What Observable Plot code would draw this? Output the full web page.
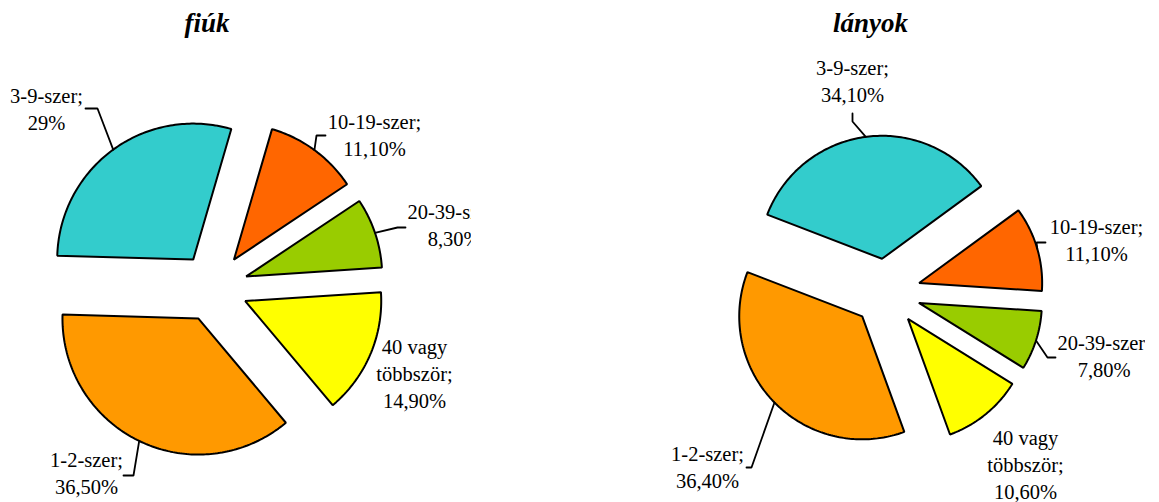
<!DOCTYPE html>
<html><head><meta charset="utf-8">
<script src="https://cdn.jsdelivr.net/npm/d3@7"></script>
<script src="https://cdn.jsdelivr.net/npm/@observablehq/plot@0.6"></script>
<style>
html,body{margin:0;padding:0;background:#fff;}
#wrap{position:relative;width:1159px;height:502px;overflow:hidden;background:#fff;}
.pane{position:absolute;top:0;}
.pane svg{overflow:hidden;}
</style></head><body><div id="wrap"></div>
<script>
// ---- data ----
const categories = ["1-2-szer", "3-9-szer", "10-19-szer", "20-39-szer", "40 vagy többször"];
const categoryLabels = ["1-2-szer;", "3-9-szer;", "10-19-szer;", "20-39-szer;", "40 vagy\ntöbbször;"];
const boysValues = [36.5, 29, 11.1, 8.3, 14.9];
const girlsValues = [36.4, 34.1, 11.1, 7.8, 10.6];
const boysValueLabels = ["36,50%", "29%", "11,10%", "8,30%", "14,90%"];
const girlsValueLabels = ["36,40%", "34,10%", "11,10%", "7,80%", "10,60%"];
const titles = ["fiúk", "lányok"];
const sliceColors = ["#FF9900", "#33CCCC", "#FF6600", "#99CC00", "#FFFF00"];

// ---- layout (pixels; label offsets relative to pie centre, y downwards) ----
const H = 502;
const textShift = -3;
const layouts = [
  {left: 0, width: 471, cx: 213, cy: 287, r: 136, explode: 34.5, startAngle: 140, title: [-6.5, -256],
   labels: [
     {at: [-127, 187], elbow: [-80, 188], end: [-90, 188]},
     {at: [-167, -177], elbow: [-116, -179], end: [-128, -179]},
     {at: [161, -151], elbow: [103, -152], end: [112, -152]},
     {at: [240.7, -60.5], elbow: [184, -60], end: [192, -60]},
     {at: [201, 88]}
   ]},
  {left: 472, width: 673, cx: 414, cy: 292, r: 123, explode: 34, startAngle: 160, title: [-16, -261],
   labels: [
     {at: [-179, 176.5], elbow: [-135, 175], end: [-140, 175]},
     {at: [-34, -209.5], elbow: [-34, -171], end: [-34, -179]},
     {at: [210, -50.5], elbow: [150, -50], end: [159, -50]},
     {at: [217.7, 65.5], elbow: [161, 65], end: [169, 65]},
     {at: [139, 174]}
   ]}
];
const series = [
  {values: boysValues, valueLabels: boysValueLabels, title: titles[0]},
  {values: girlsValues, valueLabels: girlsValueLabels, title: titles[1]}
];

const rad = Math.PI / 180;
const serif = "Liberation Serif, Tinos, DejaVu Serif, Times New Roman, serif";

function makeChart(s, L) {
  const total = d3.sum(s.values);
  const e = L.explode / L.r;
  let a = L.startAngle;
  const segs = s.values.map((v, i) => {
    const a0 = a, a1 = a + v / total * 360; a = a1;
    const mid = (a0 + a1) / 2;
    return {i, a0, a1, mid, ox: e * Math.sin(mid * rad), oy: e * Math.cos(mid * rad)};
  });
  const marks = [];
  segs.forEach(g => {
    const pts = [{x: g.ox, y: g.oy}];
    const n = Math.ceil(g.a1 - g.a0);
    for (let j = 0; j <= n; j++) {
      const t = (g.a0 + (g.a1 - g.a0) * j / n) * rad;
      pts.push({x: g.ox + Math.sin(t), y: g.oy + Math.cos(t)});
    }
    marks.push(Plot.line(pts, {x: "x", y: "y", fill: sliceColors[g.i], stroke: "#000", strokeWidth: 2,
      curve: "linear-closed", strokeLinejoin: "miter"}));
  });
  const toU = ([dx, dy]) => ({x: dx / L.r, y: -dy / L.r});
  const leaders = [];
  segs.forEach(g => {
    const lb = L.labels[g.i];
    if (!lb.elbow) return;
    leaders.push({k: g.i, x: g.ox + Math.sin(g.mid * rad), y: g.oy + Math.cos(g.mid * rad)});
    leaders.push({k: g.i, ...toU(lb.elbow)});
    leaders.push({k: g.i, ...toU(lb.end)});
  });
  marks.push(Plot.line(leaders, {x: "x", y: "y", z: "k", stroke: "#000", strokeWidth: 1.8, strokeLinejoin: "miter"}));
  const texts = segs.map(g => {
    const [dx, dy] = L.labels[g.i].at;
    return {...toU([dx, dy + textShift]), text: categoryLabels[g.i] + "\n" + s.valueLabels[g.i]};
  });
  marks.push(Plot.text(texts, {x: "x", y: "y", text: "text", fontSize: 20.5, fontFamily: serif, lineHeight: 1.33, fill: "#000"}));
  marks.push(Plot.text([{...toU(L.title), t: s.title}], {x: "x", y: "y", text: "t", fontSize: 27, fontFamily: serif,
    fontWeight: "bold", fontStyle: "italic", lineAnchor: "bottom", fill: "#000"}));
  return Plot.plot({
    width: L.width, height: H, margin: 0,
    x: {domain: [-L.cx / L.r, (L.width - L.cx) / L.r], range: [0, L.width], axis: null},
    y: {domain: [(L.cy - H) / L.r, L.cy / L.r], range: [H, 0], axis: null},
    style: {background: "white", overflow: "hidden", fontFamily: serif},
    marks
  });
}

const wrap = document.getElementById("wrap");
series.forEach((s, i) => {
  const L = layouts[i];
  const pane = document.createElement("div");
  pane.className = "pane";
  pane.style.left = L.left + "px";
  pane.style.width = L.width + "px";
  pane.appendChild(makeChart(s, L));
  wrap.appendChild(pane);
});
</script></body></html>
